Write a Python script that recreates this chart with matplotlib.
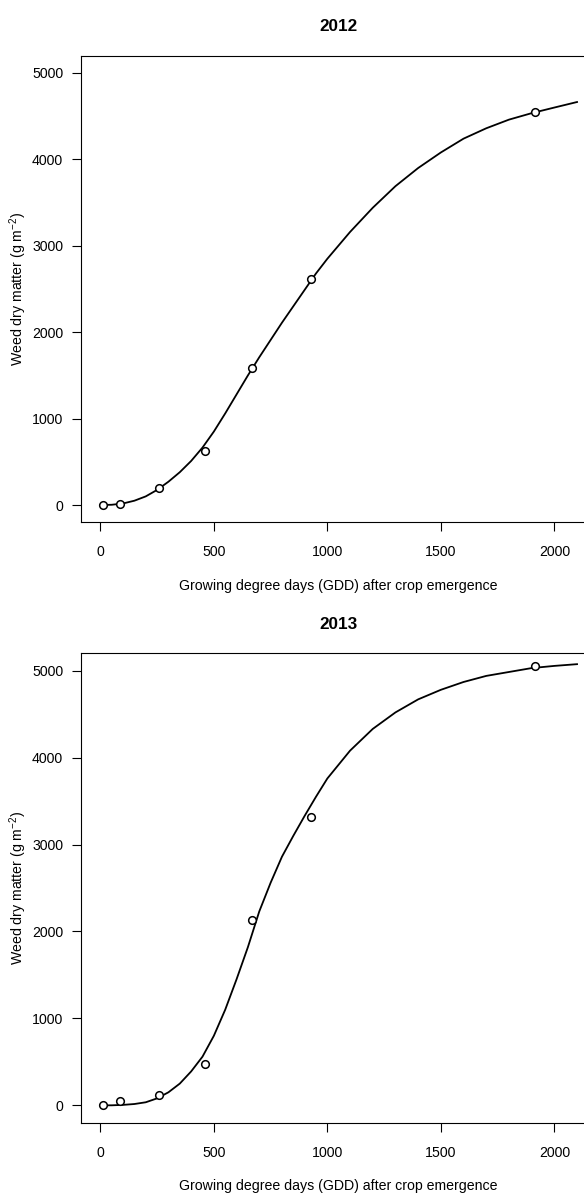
import numpy as np
import matplotlib.pyplot as plt

plt.rcParams['font.family'] = ['Liberation Sans', 'DejaVu Sans']
plt.rcParams['mathtext.fontset'] = 'custom'
plt.rcParams['mathtext.rm'] = 'Liberation Sans'
plt.rcParams['mathtext.it'] = 'Liberation Sans:italic'

# observed data
gdd_obs = [13, 88, 259, 461, 670, 930, 1915]
dm_2012 = [0, 8, 200, 625, 1590, 2620, 4548]
dm_2013 = [0, 50, 124, 480, 2130, 3320, 5058]

# fitted curves
gdd_fit = [0, 50, 100, 150, 200, 250, 300, 350, 400, 450, 500, 550, 600, 650,
           700, 750, 800, 850, 900, 950, 1000, 1100, 1200, 1300, 1400, 1500,
           1600, 1700, 1800, 1900, 2000, 2100]
fit_2012 = [0, 3, 18, 50, 100, 175, 270, 380, 510, 665, 850, 1060, 1280, 1500,
            1710, 1910, 2110, 2300, 2490, 2680, 2850, 3160, 3440, 3690, 3900, 4080,
            4240, 4360, 4460, 4535, 4600, 4664]
fit_2013 = [0, 0, 5, 15, 35, 80, 150, 250, 390, 560, 800, 1100, 1450, 1820,
            2230, 2560, 2860, 3100, 3330, 3550, 3760, 4080, 4330, 4520, 4670, 4780,
            4870, 4940, 4985, 5030, 5055, 5075]

panels = [("2012", dm_2012, fit_2012), ("2013", dm_2013, fit_2013)]
xticks = [0, 500, 1000, 1500, 2000]
yticks = [0, 1000, 2000, 3000, 4000, 5000]

W, H = 584, 1196
fig = plt.figure(figsize=(W / 100, H / 100), dpi=100)

# axes boxes in pixels: (left, top, right, bottom)
boxes = [(81.3, 55.7, 596.1, 522.3), (81.3, 653.3, 596.1, 1122.7)]

for (title, obs, fit), (l, t, r, b) in zip(panels, boxes):
    ax = fig.add_axes([l / W, 1 - b / H, (r - l) / W, (b - t) / H])
    ax.plot(gdd_fit, fit, color="black", lw=1.3)
    ax.plot(gdd_obs, obs, "o", mfc="white", mec="black", ms=5.5, mew=1.1)
    ax.set_xlim(-84, 2184)
    ax.set_ylim(-200, 5200)
    ax.set_xticks(xticks)
    ax.set_yticks(yticks)
    ax.tick_params(axis="both", direction="out", length=6.5, width=0.8,
                   labelsize=10.2, color="black")
    ax.tick_params(axis="x", pad=10)
    ax.tick_params(axis="y", pad=6.5)
    for s in ax.spines.values():
        s.set_linewidth(0.8)
    ax.set_title(title, fontsize=12.3, fontweight="bold", pad=17.5)
    ax.set_xlabel("Growing degree days (GDD) after crop emergence",
                  fontsize=10.2, labelpad=14)
    fig.text(18 / W, 1 - (t + b) / 2 / H, "Weed dry matter (g m$^{-2}$)",
             rotation=90, ha="center", va="center", fontsize=10.2)

fig.savefig("out.png", dpi=100)
